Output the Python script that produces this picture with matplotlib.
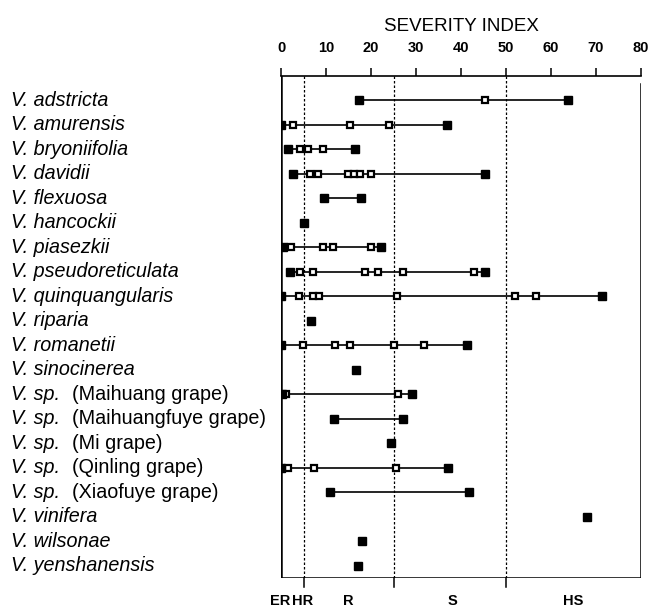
import matplotlib
matplotlib.use("Agg")
from matplotlib import pyplot as plt
from matplotlib import transforms

plt.rcParams['font.family'] = ['Liberation Sans', 'DejaVu Sans']

species = ["adstricta", "amurensis", "bryoniifolia", "davidii", "flexuosa",
           "hancockii", "piasezkii", "pseudoreticulata", "quinquangularis",
           "riparia", "romanetii", "sinocinerea", "sp.", "sp.", "sp.", "sp.",
           "sp.", "vinifera", "wilsonae", "yenshanensis"]
common = [None] * 12 + ["(Maihuang grape)", "(Maihuangfuye grape)", "(Mi grape)",
                        "(Qinling grape)", "(Xiaofuye grape)"] + [None] * 3

# severity index of the accessions in each species
adstricta = [17.4, 45.3, 63.7]
amurensis = [0, 2.6, 15.3, 24, 36.8]
bryoniifolia = [1.6, 4.2, 6.1, 9.3, 16.4]
davidii = [2.6, 6.5, 8.3, 14.8, 16.2, 17.6, 20.1, 45.3]
flexuosa = [9.6, 17.7]
hancockii = [5.2]
piasezkii = [0.5, 2.2, 9.4, 11.5, 20.1, 22.3]
pseudoreticulata = [2.1, 4.2, 7.2, 18.7, 21.6, 27.2, 42.9, 45.3]
quinquangularis = [0.1, 3.9, 7.0, 8.4, 25.7, 52.0, 56.6, 71.3]
riparia = [6.6]
romanetii = [0.1, 4.8, 12.0, 15.3, 25.0, 31.8, 41.4]
sinocinerea = [16.7]
maihuang = [0.3, 1.2, 26.1, 29.0]
maihuangfuye = [11.8, 27.0]
mi = [24.4]
qinling = [0.1, 1.5, 7.3, 25.6, 37.0]
xiaofuye = [10.9, 41.8]
vinifera = [67.9]
wilsonae = [18.1]
yenshanensis = [17.0]

values = [adstricta, amurensis, bryoniifolia, davidii, flexuosa, hancockii,
          piasezkii, pseudoreticulata, quinquangularis, riparia, romanetii,
          sinocinerea, maihuang, maihuangfuye, mi, qinling, xiaofuye,
          vinifera, wilsonae, yenshanensis]

xticks = [0, 10, 20, 30, 40, 50, 60, 70, 80]
class_bounds = [5, 25, 50]
class_names = ["ER", "HR", "R", "S", "HS"]
class_pos = [-0.3, 4.8, 15, 38, 65]

W, H = 651, 612
fig = plt.figure(figsize=(W / 100, H / 100), dpi=100)
ax = fig.add_axes([281 / W, 34 / H, 360 / W, 502 / H])
ax.set_xlim(0, 80)
ax.set_ylim(20.5, 0)

for s in ["left", "right", "bottom"]:
    ax.spines[s].set_visible(False)
ax.spines["top"].set_linewidth(1.2)
ax.axvline(0, color="k", lw=1.8)
ax.axvline(80, color="k", lw=1.1, ymin=0, ymax=0.985)
ax.axhline(20.5, color="k", lw=1.1, xmin=0, xmax=1)

ax.xaxis.tick_top()
ax.set_xticks(xticks)
ax.set_xticklabels([str(t) for t in xticks], fontsize=10.5, fontweight="bold")
ax.tick_params(axis="x", direction="out", length=6, width=1.1, pad=9)
ax.set_yticks([])
ax.set_title("SEVERITY INDEX", fontsize=13.5, pad=7)

# class boundaries
for b in class_bounds:
    ax.plot([b, b], [0, 20.5], color="k", lw=0.9, ls=(0, (2, 1.6)))
    ax.plot([b, b], [20.5, 20.85], color="k", lw=1.1, clip_on=False)

for name, pos in zip(class_names, class_pos):
    ax.text(pos, 21.45, name, ha="center", va="center", fontsize=10.5,
            fontweight="bold", clip_on=False)

for i, vals in enumerate(values):
    y = i + 1
    v = sorted(vals)
    if len(v) > 1:
        ax.plot([v[0], v[-1]], [y, y], color="k", lw=1.2, zorder=2)
        ax.plot(v[1:-1], [y] * (len(v) - 2), "s", ms=5, mfc="white",
                mec="k", mew=1.6, zorder=3)
        ax.plot([v[0], v[-1]], [y, y], "s", ms=5.2, color="k", zorder=4)
    else:
        ax.plot(v, [y], "s", ms=5.2, color="k", zorder=4)

# species labels on the left
trans = transforms.blended_transform_factory(fig.transFigure, ax.transData)
for i, (sp, cn) in enumerate(zip(species, common)):
    ax.text(11 / W, i + 1, "V. " + sp, transform=trans, ha="left", va="center",
            fontsize=14.2, style="italic", clip_on=False)
    if cn is not None:
        ax.text(72 / W, i + 1, cn, transform=trans, ha="left", va="center",
                fontsize=14.2, clip_on=False)

fig.savefig("out.png", dpi=100)
